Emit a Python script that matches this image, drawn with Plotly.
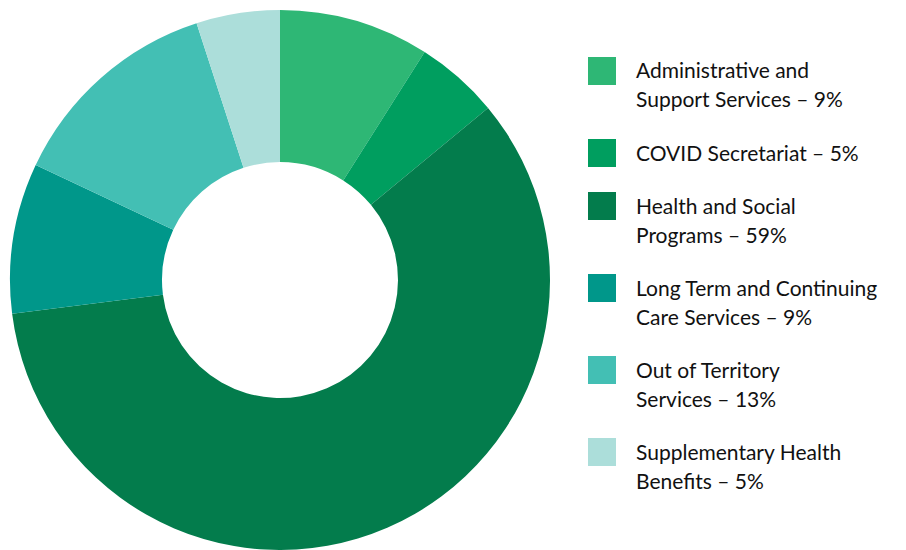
import plotly.graph_objects as go

labels = ["Administrative and Support Services", "COVID Secretariat", "Health and Social Programs",
          "Long Term and Continuing Care Services", "Out of Territory Services",
          "Supplementary Health Benefits"]
values = [9, 5, 59, 9, 13, 5]
colors = ["#2eb775", "#009e5f", "#037c4c", "#00978a", "#43bfb4", "#acdeda"]
legend_lines = [
    ["Administrative and", "Support Services"],
    ["COVID Secretariat"],
    ["Health and Social", "Programs"],
    ["Long Term and Continuing", "Care Services"],
    ["Out of Territory", "Services"],
    ["Supplementary Health", "Benefits"],
]

W, H = 906, 550
fig = go.Figure(go.Pie(
    labels=labels, values=values, sort=False, direction="clockwise", rotation=0,
    hole=0.437, marker=dict(colors=colors, line=dict(width=0)),
    textinfo="none", showlegend=False,
    domain=dict(x=[10 / W, 550 / W], y=[0, 1 - 10 / H]),
))

shapes, annotations = [], []
y = 71
font = dict(family="Lato, Open Sans, sans-serif", size=21, color="#111111")
for lines, v, c in zip(legend_lines, values, colors):
    lines = lines[:-1] + [f"{lines[-1]} – {v}%"]
    shapes.append(dict(type="rect", xref="paper", yref="paper",
                       x0=588 / W, x1=616 / W, y0=1 - (y + 14) / H, y1=1 - (y - 14) / H,
                       fillcolor=c, line=dict(width=0)))
    for i, t in enumerate(lines):
        annotations.append(dict(text=t, xref="paper", yref="paper", x=634 / W,
                                y=1 - (y - 1 + 29 * i) / H, xanchor="left", yanchor="middle",
                                showarrow=False, font=font))
    y += 29 * len(lines) + 24

fig.update_layout(width=W, height=H, margin=dict(l=0, r=0, t=0, b=0),
                  paper_bgcolor="white", plot_bgcolor="white",
                  shapes=shapes, annotations=annotations)
fig.write_html("out.html")
